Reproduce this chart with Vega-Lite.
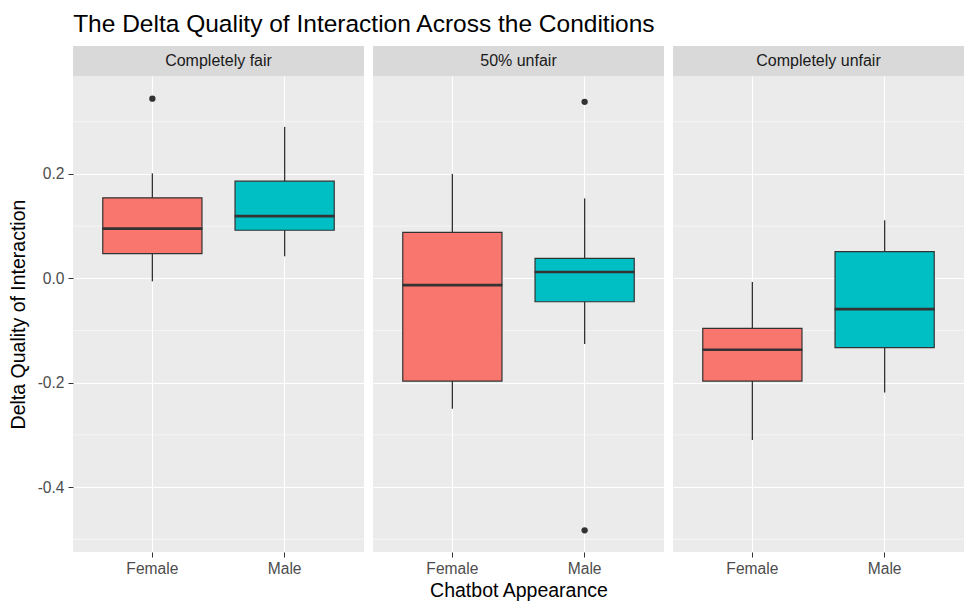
{
  "$schema": "https://vega.github.io/schema/vega-lite/v6.json",
  "background": "white",
  "padding": {"left": 8, "top": 11, "right": 0, "bottom": 0},
  "title": {"text": "The Delta Quality of Interaction Across the Conditions", "anchor": "start", "fontSize": 24.5, "fontWeight": "normal", "color": "black", "dx": 65, "offset": 9},
  "datasets": {
    "box": [
      {"panel": "Completely fair", "gender": "Female", "lo": -0.006, "q1": 0.047, "med": 0.095, "q3": 0.154, "hi": 0.201},
      {"panel": "Completely fair", "gender": "Male", "lo": 0.042, "q1": 0.092, "med": 0.119, "q3": 0.186, "hi": 0.290},
      {"panel": "50% unfair", "gender": "Female", "lo": -0.250, "q1": -0.197, "med": -0.013, "q3": 0.088, "hi": 0.200},
      {"panel": "50% unfair", "gender": "Male", "lo": -0.126, "q1": -0.045, "med": 0.012, "q3": 0.038, "hi": 0.153},
      {"panel": "Completely unfair", "gender": "Female", "lo": -0.310, "q1": -0.197, "med": -0.137, "q3": -0.096, "hi": -0.007},
      {"panel": "Completely unfair", "gender": "Male", "lo": -0.219, "q1": -0.133, "med": -0.059, "q3": 0.051, "hi": 0.111}
    ],
    "out": [
      {"panel": "Completely fair", "gender": "Female", "v": 0.344},
      {"panel": "50% unfair", "gender": "Male", "v": 0.338},
      {"panel": "50% unfair", "gender": "Male", "v": -0.483}
    ],
    "minor": [{"v": -0.5}, {"v": -0.3}, {"v": -0.1}, {"v": 0.1}, {"v": 0.3}]
  },
  "spacing": 7,
  "hconcat": [
    {
      "spacing": 0,
      "vconcat": [
        {
          "width": 291, "height": 30,
          "view": {"fill": "#d9d9d9", "stroke": null},
          "data": {"values": [{"panel": "Completely fair"}]},
          "mark": {"type": "text", "fontSize": 16, "color": "#1a1a1a", "align": "center", "baseline": "middle"},
          "encoding": {"text": {"field": "panel"}}
        },
        {
          "width": 291, "height": 476,
          "view": {"fill": "#ebebeb", "stroke": null},
          "layer": [
            {
              "data": {"name": "minor"},
              "mark": {"type": "rule", "color": "white", "strokeWidth": 0.55},
              "encoding": {
                "y": {"field": "v", "type": "quantitative", "scale": {"domain": [-0.5245, 0.3875], "nice": false, "zero": false},
                  "axis": {"values": [-0.4, -0.2, 0, 0.2], "labelExpr": "replace(format(datum.value, '.1f'), '\u2212', '-')", "grid": true, "gridColor": "white", "gridWidth": 1.1, "domain": false, "tickColor": "#333333", "tickSize": 5, "labelColor": "#4d4d4d", "labelFontSize": 15.6, "labelPadding": 4, "titleFontSize": 19.5, "titleFontWeight": "normal", "titleColor": "black", "titlePadding": 9},
                  "title": "Delta Quality of Interaction"}
              }
            },
            {
              "data": {"name": "box"},
              "transform": [{"filter": "datum.panel === 'Completely fair'"}],
              "mark": {"type": "rule", "color": "#333333", "strokeWidth": 1.3},
              "encoding": {
                "x": {"field": "gender", "type": "nominal", "scale": {"domain": ["Female", "Male"], "paddingInner": 0.25, "paddingOuter": 0.225},
                  "axis": {"grid": true, "gridColor": "white", "gridWidth": 1.1, "bandPosition": 0.5, "domain": false, "tickColor": "#333333", "tickSize": 5, "labelColor": "#4d4d4d", "labelFontSize": 15.6, "labelAngle": 0, "labelPadding": 4}, "title": null},
                "y": {"field": "lo", "type": "quantitative", "title": "Delta Quality of Interaction"},
                "y2": {"field": "hi"}
              }
            },
            {
              "data": {"name": "box"},
              "transform": [{"filter": "datum.panel === 'Completely fair'"}],
              "mark": {"type": "bar", "stroke": "#333333", "strokeWidth": 1.2},
              "encoding": {
                "x": {"field": "gender", "type": "nominal", "title": null},
                "y": {"field": "q1", "type": "quantitative", "title": "Delta Quality of Interaction"},
                "y2": {"field": "q3"},
                "fill": {"field": "gender", "type": "nominal", "scale": {"domain": ["Female", "Male"], "range": ["#F8766D", "#00BFC4"]}, "legend": null}
              }
            },
            {
              "data": {"name": "box"},
              "transform": [{"filter": "datum.panel === 'Completely fair'"}],
              "mark": {"type": "tick", "color": "#333333", "thickness": 2.7, "size": 100, "orient": "horizontal", "opacity": 1},
              "encoding": {
                "x": {"field": "gender", "type": "nominal", "title": null},
                "y": {"field": "med", "type": "quantitative", "title": "Delta Quality of Interaction"}
              }
            },
            {
              "data": {"name": "out"},
              "transform": [{"filter": "datum.panel === 'Completely fair'"}],
              "mark": {"type": "circle", "color": "#333333", "size": 40, "opacity": 1},
              "encoding": {
                "x": {"field": "gender", "type": "nominal", "title": null},
                "y": {"field": "v", "type": "quantitative", "title": "Delta Quality of Interaction"}
              }
            }
          ]
        }
      ]
    },
    {
      "spacing": 0,
      "vconcat": [
        {
          "width": 291, "height": 30,
          "view": {"fill": "#d9d9d9", "stroke": null},
          "data": {"values": [{"panel": "50% unfair"}]},
          "mark": {"type": "text", "fontSize": 16, "color": "#1a1a1a", "align": "center", "baseline": "middle"},
          "encoding": {"text": {"field": "panel"}}
        },
        {
          "width": 291, "height": 476,
          "view": {"fill": "#ebebeb", "stroke": null},
          "layer": [
            {
              "data": {"name": "minor"},
              "mark": {"type": "rule", "color": "white", "strokeWidth": 0.55},
              "encoding": {
                "y": {"field": "v", "type": "quantitative", "scale": {"domain": [-0.5245, 0.3875], "nice": false, "zero": false},
                  "axis": {"values": [-0.4, -0.2, 0, 0.2], "grid": true, "gridColor": "white", "gridWidth": 1.1, "domain": false, "ticks": false, "labels": false, "minExtent": 0, "maxExtent": 0},
                  "title": null}
              }
            },
            {
              "data": {"name": "box"},
              "transform": [{"filter": "datum.panel === '50% unfair'"}],
              "mark": {"type": "rule", "color": "#333333", "strokeWidth": 1.3},
              "encoding": {
                "x": {"field": "gender", "type": "nominal", "scale": {"domain": ["Female", "Male"], "paddingInner": 0.25, "paddingOuter": 0.225},
                  "axis": {"grid": true, "gridColor": "white", "gridWidth": 1.1, "bandPosition": 0.5, "domain": false, "tickColor": "#333333", "tickSize": 5, "labelColor": "#4d4d4d", "labelFontSize": 15.6, "labelAngle": 0, "labelPadding": 4, "titleFontSize": 19.5, "titleFontWeight": "normal", "titleColor": "black", "titlePadding": 5}, "title": "Chatbot Appearance"},
                "y": {"field": "lo", "type": "quantitative", "title": null},
                "y2": {"field": "hi"}
              }
            },
            {
              "data": {"name": "box"},
              "transform": [{"filter": "datum.panel === '50% unfair'"}],
              "mark": {"type": "bar", "stroke": "#333333", "strokeWidth": 1.2},
              "encoding": {
                "x": {"field": "gender", "type": "nominal", "title": "Chatbot Appearance"},
                "y": {"field": "q1", "type": "quantitative", "title": null},
                "y2": {"field": "q3"},
                "fill": {"field": "gender", "type": "nominal", "scale": {"domain": ["Female", "Male"], "range": ["#F8766D", "#00BFC4"]}, "legend": null}
              }
            },
            {
              "data": {"name": "box"},
              "transform": [{"filter": "datum.panel === '50% unfair'"}],
              "mark": {"type": "tick", "color": "#333333", "thickness": 2.7, "size": 100, "orient": "horizontal", "opacity": 1},
              "encoding": {
                "x": {"field": "gender", "type": "nominal", "title": "Chatbot Appearance"},
                "y": {"field": "med", "type": "quantitative", "title": null}
              }
            },
            {
              "data": {"name": "out"},
              "transform": [{"filter": "datum.panel === '50% unfair'"}],
              "mark": {"type": "circle", "color": "#333333", "size": 40, "opacity": 1},
              "encoding": {
                "x": {"field": "gender", "type": "nominal", "title": "Chatbot Appearance"},
                "y": {"field": "v", "type": "quantitative", "title": null}
              }
            }
          ]
        }
      ]
    },
    {
      "spacing": 0,
      "vconcat": [
        {
          "width": 291, "height": 30,
          "view": {"fill": "#d9d9d9", "stroke": null},
          "data": {"values": [{"panel": "Completely unfair"}]},
          "mark": {"type": "text", "fontSize": 16, "color": "#1a1a1a", "align": "center", "baseline": "middle"},
          "encoding": {"text": {"field": "panel"}}
        },
        {
          "width": 291, "height": 476,
          "view": {"fill": "#ebebeb", "stroke": null},
          "layer": [
            {
              "data": {"name": "minor"},
              "mark": {"type": "rule", "color": "white", "strokeWidth": 0.55},
              "encoding": {
                "y": {"field": "v", "type": "quantitative", "scale": {"domain": [-0.5245, 0.3875], "nice": false, "zero": false},
                  "axis": {"values": [-0.4, -0.2, 0, 0.2], "grid": true, "gridColor": "white", "gridWidth": 1.1, "domain": false, "ticks": false, "labels": false, "minExtent": 0, "maxExtent": 0},
                  "title": null}
              }
            },
            {
              "data": {"name": "box"},
              "transform": [{"filter": "datum.panel === 'Completely unfair'"}],
              "mark": {"type": "rule", "color": "#333333", "strokeWidth": 1.3},
              "encoding": {
                "x": {"field": "gender", "type": "nominal", "scale": {"domain": ["Female", "Male"], "paddingInner": 0.25, "paddingOuter": 0.225},
                  "axis": {"grid": true, "gridColor": "white", "gridWidth": 1.1, "bandPosition": 0.5, "domain": false, "tickColor": "#333333", "tickSize": 5, "labelColor": "#4d4d4d", "labelFontSize": 15.6, "labelAngle": 0, "labelPadding": 4}, "title": null},
                "y": {"field": "lo", "type": "quantitative", "title": null},
                "y2": {"field": "hi"}
              }
            },
            {
              "data": {"name": "box"},
              "transform": [{"filter": "datum.panel === 'Completely unfair'"}],
              "mark": {"type": "bar", "stroke": "#333333", "strokeWidth": 1.2},
              "encoding": {
                "x": {"field": "gender", "type": "nominal", "title": null},
                "y": {"field": "q1", "type": "quantitative", "title": null},
                "y2": {"field": "q3"},
                "fill": {"field": "gender", "type": "nominal", "scale": {"domain": ["Female", "Male"], "range": ["#F8766D", "#00BFC4"]}, "legend": null}
              }
            },
            {
              "data": {"name": "box"},
              "transform": [{"filter": "datum.panel === 'Completely unfair'"}],
              "mark": {"type": "tick", "color": "#333333", "thickness": 2.7, "size": 100, "orient": "horizontal", "opacity": 1},
              "encoding": {
                "x": {"field": "gender", "type": "nominal", "title": null},
                "y": {"field": "med", "type": "quantitative", "title": null}
              }
            }
          ]
        }
      ]
    }
  ],
  "config": {
    "font": "Liberation Sans",
    "view": {"stroke": null},
    "title": {"font": "Liberation Sans"}
  }
}
